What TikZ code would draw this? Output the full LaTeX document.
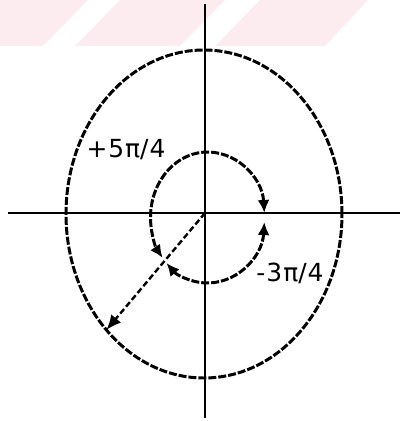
\documentclass[tikz,border=0pt]{standalone}
\usepackage{fontspec}
\setmainfont{DejaVu Sans}
\usetikzlibrary{arrows.meta}
\definecolor{wmark}{HTML}{FDECEF}
\tikzset{
  axis/.style={draw=black, line width=2.4pt},
  circ/.style={draw=black, line width=3pt, dash pattern=on 8pt off 2pt},
  arcarr/.style={circ, {Latex[length=13pt,width=12pt]}-{Latex[length=13pt,width=12pt]}},
  radarr/.style={circ, dash pattern=on 6pt off 3pt, line width=2.4pt, -{Latex[length=15pt,width=13pt]}},
  angl/.style={font=\fontsize{25}{25}\selectfont, inner sep=0pt},
  stripe/.style={fill=wmark, draw=none},
}
\begin{document}
\begin{tikzpicture}[x=1bp, y=1bp]
  \useasboundingbox (-205,-208) rectangle (197,213);
  % faint stripes along the top
  \fill[stripe] (-205,167) -- (-162,167) -- (-117,213) -- (-205,213) -- cycle;
  \fill[stripe] (-130,167) -- (-25,167) -- (20,213) -- (-85,213) -- cycle;
  \fill[stripe] (10,167) -- (120,167) -- (163,213) -- (55,213) -- cycle;

  \coordinate (O) at (0,0);
  \coordinate (oc) at (-1,-1);
  \coordinate (ic) at (2.5,-4.5);
  \coordinate (top) at (0,209);
  \coordinate (bot) at (0,-205);
  \coordinate (lft) at (-197,0);
  \coordinate (rgt) at (195,0);

  % axes
  \draw[axis] (top) -- (bot);
  \draw[axis] (lft) -- (rgt);

  % outer circle
  \draw[circ] (oc) ellipse [x radius=138, y radius=164];

  % inner circle, as the two arcs
  \draw[arcarr] ([shift={(4:57 and 65.5)}]ic) arc [start angle=4, end angle=218, x radius=57, y radius=65.5];
  \draw[arcarr] ([shift={(-4:57 and 65.5)}]ic) arc [start angle=-4, end angle=-136, x radius=57, y radius=65.5];

  % radius at 5pi/4
  \draw[radarr] (O) -- ([shift={(225:138 and 164)}]oc);

  \node[angl] (plus) at (-79,63) {+\kern1pt5\kern1ptπ/\kern1pt4};
  \node[angl] (minus) at (85,-60) {-\kern1pt3\kern1ptπ/\kern1pt4};
\end{tikzpicture}
\end{document}
